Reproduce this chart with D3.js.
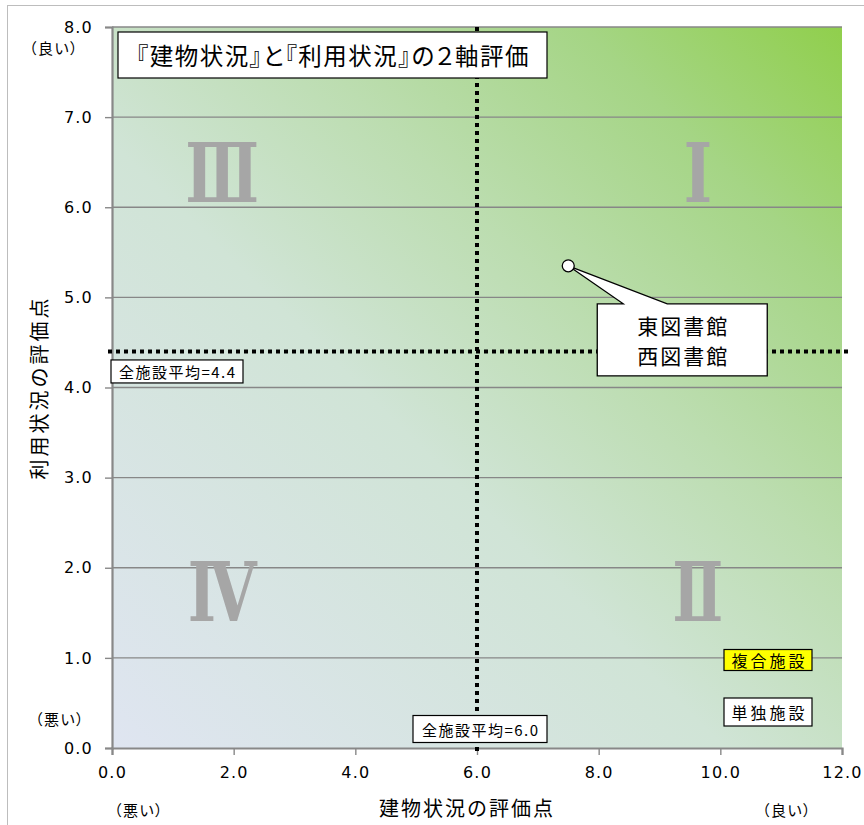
<!DOCTYPE html>
<html>
<head>
<meta charset="utf-8">
<script src="https://cdn.jsdelivr.net/npm/d3@7"></script>
<style>
  html, body { margin: 0; padding: 0; background: #fff; }
  svg { display: block; }
  .palt { font-feature-settings: "palt" 1; }
</style>
</head>
<body>
<div id="chart"></div>
<script>
// ---- data ----
const xTicks = [0, 2, 4, 6, 8, 10, 12];
const yTicks = [0, 1, 2, 3, 4, 5, 6, 7, 8];
const facilityX = [7.5];                 // 建物状況の評価点
const facilityY = [5.35];                // 利用状況の評価点
const facilityNames = [["東図書館", "西図書館"]];
const avgBuilding = 6.0;                 // 全施設平均 (建物)
const avgUsage = 4.4;                    // 全施設平均 (利用)
const quadrantNames = ["Ⅰ", "Ⅱ", "Ⅲ", "Ⅳ"];
const quadrantX = [9.63, 9.63, 1.81, 1.81];
const quadrantY = [6.38, 1.73, 6.38, 1.73];
const legendNames = ["複合施設", "単独施設"];
const legendFills = ["#ffff00", "#ffffff"];
const titleText = "『建物状況』と『利用状況』の２軸評価";

// ---- layout ----
const W = 864, H = 825;
const plot = { left: 112, right: 842, top: 27, bottom: 748 };
const jp = "'Noto Sans CJK JP', 'Noto Sans', sans-serif";
const num = "'DejaVu Sans', sans-serif";

const svg = d3.select("#chart").append("svg")
  .attr("width", W).attr("height", H);

const x = d3.scaleLinear().domain([0, 12]).range([plot.left, plot.right]);
const y = d3.scaleLinear().domain([0, 8]).range([plot.bottom, plot.top]);

// outer frame
svg.append("rect")
  .attr("x", 7.5).attr("y", 5.5).attr("width", 900).attr("height", 900)
  .attr("fill", "none").attr("stroke", "#bdbdbd").attr("stroke-width", 1);

// plot background gradient (bottom-left → top-right)
const defs = svg.append("defs");
const grad = defs.append("linearGradient").attr("id", "bg")
  .attr("x1", 0).attr("y1", 1).attr("x2", 1).attr("y2", 0);
[[0, "#dfe5f1"], [0.42, "#d0e4d6"], [0.62, "#bcddb0"], [0.82, "#a5d585"], [1, "#90cf4c"]]
  .forEach(([o, c]) => grad.append("stop").attr("offset", o).attr("stop-color", c));

svg.append("rect")
  .attr("x", plot.left).attr("y", plot.top)
  .attr("width", plot.right - plot.left).attr("height", plot.bottom - plot.top)
  .attr("fill", "url(#bg)");

// horizontal gridlines
svg.append("g").selectAll("line").data(yTicks.filter(d => d > 0)).join("line")
  .attr("x1", plot.left).attr("x2", plot.right)
  .attr("y1", d => y(d)).attr("y2", d => y(d))
  .attr("stroke", "#878787").attr("stroke-width", 1.4);

// y axis
const yAxis = svg.append("g").attr("transform", `translate(${plot.left},0)`)
  .call(d3.axisLeft(y).tickValues(yTicks).tickFormat(d3.format(".1f")).tickSize(7).tickPadding(12));
yAxis.select(".domain").attr("stroke", "#888").attr("stroke-width", 2.2);
yAxis.selectAll(".tick line").attr("stroke", "#888").attr("stroke-width", 1.4);
yAxis.selectAll(".tick text").attr("font-family", num).attr("font-size", 16)
  .attr("letter-spacing", 1.2).attr("fill", "#000");

// x axis
const xAxis = svg.append("g").attr("transform", `translate(0,${plot.bottom})`)
  .call(d3.axisBottom(x).tickValues(xTicks).tickFormat(d3.format(".1f")).tickSize(7).tickPadding(12));
xAxis.select(".domain").attr("stroke", "#888").attr("stroke-width", 2.2);
xAxis.selectAll(".tick line").attr("stroke", "#888").attr("stroke-width", 1.4);
xAxis.selectAll(".tick text").attr("font-family", num).attr("font-size", 16)
  .attr("letter-spacing", 1.2).attr("fill", "#000");

// quadrant numerals
svg.append("g").selectAll("text").data(quadrantNames).join("text")
  .attr("transform", (d, i) => `translate(${x(quadrantX[i])},${y(quadrantY[i])}) scale(0.74,1)`)
  .attr("text-anchor", "middle").attr("dominant-baseline", "central")
  .attr("font-family", "'DejaVu Serif', 'Liberation Serif', serif")
  .attr("font-weight", "bold").attr("font-size", 82)
  .attr("fill", "#a6a6a6")
  .text(d => d);

// average lines (dotted)
svg.append("line")
  .attr("x1", x(avgBuilding)).attr("x2", x(avgBuilding))
  .attr("y1", plot.top).attr("y2", plot.bottom + 4)
  .attr("stroke", "#000").attr("stroke-width", 4).attr("stroke-dasharray", "4,4");
svg.append("line")
  .attr("x1", plot.left - 4).attr("x2", plot.right + 6)
  .attr("y1", y(avgUsage)).attr("y2", y(avgUsage))
  .attr("stroke", "#000").attr("stroke-width", 4).attr("stroke-dasharray", "4,4");

// labelled box helper
function labelBox(cx, cy, w, h, txt, size, spacing, fill, cls) {
  const g = svg.append("g");
  g.append("rect").attr("x", cx - w / 2).attr("y", cy - h / 2)
    .attr("width", w).attr("height", h)
    .attr("fill", fill).attr("stroke", "#000").attr("stroke-width", 1.2);
  g.append("text").attr("x", cx + spacing / 2).attr("y", cy)
    .attr("class", cls || null)
    .attr("text-anchor", "middle").attr("dominant-baseline", "central")
    .attr("font-family", jp).attr("font-size", size)
    .attr("letter-spacing", spacing).attr("fill", "#000").text(txt);
  return g;
}

// average labels
labelBox(plot.left + 65, y(avgUsage) + 20, 132, 23, `全施設平均=${avgUsage.toFixed(1)}`, 15, 1.5, "#fff");
labelBox(x(avgBuilding) + 3, plot.bottom - 19, 134, 27, `全施設平均=${avgBuilding.toFixed(1)}`, 15, 1.5, "#fff");

// title
labelBox(332.5, 55, 429, 46, titleText, 23.5, 1.5, "#fff", "palt");

// legend boxes
legendNames.forEach((n, i) => {
  labelBox(768, 660 + i * 52, 88, i === 0 ? 21 : 28, n, 16, 3, legendFills[i]);
});

// data points with callouts
facilityX.forEach((fx, i) => {
  const px = x(fx), py = y(facilityY[i]);
  const bx = px + 29, by = py + 38, bw = 170, bh = 72;
  const path = [
    [px, py], [bx + 26, by], [bx, by], [bx, by + bh], [bx + bw, by + bh],
    [bx + bw, by], [bx + 70, by]
  ];
  svg.append("path")
    .attr("d", d3.line()(path) + "Z")
    .attr("fill", "#fff").attr("stroke", "#000").attr("stroke-width", 1.3)
    .attr("stroke-linejoin", "miter");
  facilityNames[i].forEach((nm, k) => {
    svg.append("text")
      .attr("x", bx + bw / 2 + 1).attr("y", by + 21 + k * 30)
      .attr("text-anchor", "middle").attr("dominant-baseline", "central")
      .attr("font-family", jp).attr("font-size", 21).attr("letter-spacing", 2)
      .attr("fill", "#000").text(nm);
  });
  svg.append("circle").attr("cx", px).attr("cy", py).attr("r", 6)
    .attr("fill", "#fff").attr("stroke", "#000").attr("stroke-width", 1.3);
});

// axis titles
svg.append("text").attr("x", 467).attr("y", 807)
  .attr("text-anchor", "middle").attr("dominant-baseline", "central")
  .attr("font-family", jp).attr("font-size", 20).attr("letter-spacing", 2)
  .attr("fill", "#000").text("建物状況の評価点");
svg.append("text")
  .attr("transform", `translate(38,${(plot.top + plot.bottom) / 2}) rotate(-90)`)
  .attr("text-anchor", "middle").attr("dominant-baseline", "central")
  .attr("font-family", jp).attr("font-size", 20).attr("letter-spacing", 3)
  .attr("fill", "#000").text("利用状況の評価点");

// good / bad hints
const hints = [
  { t: "（良い）", x: 54, y: 47 },
  { t: "（悪い）", x: 60, y: 718 },
  { t: "（悪い）", x: 139, y: 809 },
  { t: "（良い）", x: 787, y: 809 }
];
svg.append("g").selectAll("text").data(hints).join("text")
  .attr("class", "palt")
  .attr("x", d => d.x).attr("y", d => d.y)
  .attr("text-anchor", "middle").attr("dominant-baseline", "central")
  .attr("font-family", jp).attr("font-size", 15).attr("letter-spacing", 1.5)
  .attr("fill", "#000").text(d => d.t);
</script>
</body>
</html>
